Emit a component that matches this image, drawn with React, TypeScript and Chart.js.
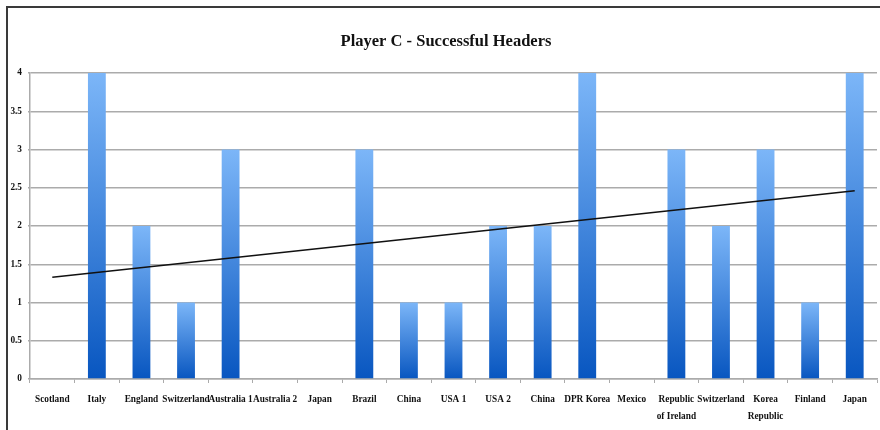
import React, { useEffect, useRef } from "react";
import { Chart, registerables } from "chart.js";

Chart.register(...registerables);

// Opponents, in match order
const matches: (string | string[])[] = [
  "Scotland",
  "Italy",
  "England",
  "Switzerland",
  "Australia 1",
  "Australia 2",
  "Japan",
  "Brazil",
  "China",
  "USA 1",
  "USA 2",
  "China",
  "DPR Korea",
  "Mexico",
  ["Republic", "of Ireland"],
  "Switzerland",
  ["Korea", "Republic"],
  "Finland",
  "Japan",
];

// Successful headers per match
const headers = [0, 4, 2, 1, 3, 0, 0, 3, 1, 1, 2, 2, 4, 0, 3, 2, 3, 1, 4];

// Linear trend line: value at the first and the last match
const trendEnds = [1.33, 2.46];

const yTicks = [0, 0.5, 1, 1.5, 2, 2.5, 3, 3.5, 4];

const TITLE = "Player C - Successful Headers";

const SERIF = "'Liberation Serif', 'Times New Roman', serif";
const BAR_TOP = "#7cb6f8";
const BAR_BOTTOM = "#0856c0";
const GRID = "#ababab";

// Title centred over the frame (left edge at the border), not the full canvas
const titlePlugin = {
  id: "frameTitle",
  afterDraw(chart: any) {
    const c = chart.ctx;
    c.save();
    c.font = `bold 16.5px ${SERIF}`;
    c.fillStyle = "#111111";
    c.textAlign = "center";
    c.textBaseline = "middle";
    c.fillText(TITLE, 446, 42);
    c.restore();
  },
};

export default function App() {
  const canvasRef = useRef<HTMLCanvasElement | null>(null);

  useEffect(() => {
    const canvas = canvasRef.current;
    if (!canvas) return;

    const trendData: (number | null)[] = matches.map(() => null);
    trendData[0] = trendEnds[0];
    trendData[trendData.length - 1] = trendEnds[1];

    const chart = new Chart(canvas, {
      type: "bar",
      data: {
        labels: matches,
        datasets: [
          {
            type: "line",
            label: "Trend",
            data: trendData,
            borderColor: "#111111",
            borderWidth: 1.5,
            pointRadius: 0,
            spanGaps: true,
            order: 0,
          } as any,
          {
            type: "bar",
            label: "Successful Headers",
            data: headers,
            order: 1,
            categoryPercentage: 1,
            barPercentage: 0.4,
            borderWidth: 0,
            backgroundColor: (ctx: any) => {
              const chart = ctx.chart;
              const area = chart.chartArea;
              const y = chart.scales.y;
              if (!area || !y || ctx.type !== "data") return BAR_BOTTOM;
              const top = y.getPixelForValue(ctx.raw);
              const bottom = y.getPixelForValue(0);
              if (!isFinite(top) || Math.abs(bottom - top) < 1) return BAR_BOTTOM;
              const g = chart.ctx.createLinearGradient(0, top, 0, bottom);
              g.addColorStop(0, BAR_TOP);
              g.addColorStop(1, BAR_BOTTOM);
              return g;
            },
          } as any,
        ],
      },
      plugins: [titlePlugin],
      options: {
        animation: false,
        responsive: false,
        maintainAspectRatio: false,
        layout: { padding: { left: 0, right: 3, top: 73, bottom: 0 } },
        plugins: {
          legend: { display: false },
          tooltip: { enabled: false },
          title: { display: false },
        },
        scales: {
          x: {
            grid: {
              display: true,
              drawOnChartArea: false,
              drawTicks: true,
              tickLength: 4,
              offset: true,
              color: GRID,
              lineWidth: 1,
            },
            border: { display: true, color: GRID, width: 1.5 },
            ticks: {
              autoSkip: false,
              maxRotation: 0,
              minRotation: 0,
              padding: 8,
              color: "#111111",
              font: { family: SERIF, size: 9.3, weight: "bold", lineHeight: 1.8 },
            },
            afterFit: (scale: any) => {
              scale.height = 51;
            },
          },
          y: {
            min: 0,
            max: 4,
            afterBuildTicks: (scale: any) => {
              scale.ticks = yTicks.map((v) => ({ value: v }));
            },
            grid: {
              color: GRID,
              lineWidth: 1.5,
              drawTicks: true,
              tickLength: 2,
            },
            border: { display: true, color: GRID, width: 1.5 },
            ticks: {
              padding: 6,
              color: "#111111",
              font: { family: SERIF, size: 9.3, weight: "bold" },
              callback: (value: any) => String(Number(value)),
            },
            afterFit: (scale: any) => {
              scale.width = 30;
            },
          },
        },
      },
    });

    return () => chart.destroy();
  }, []);

  return (
    <div
      style={{
        position: "fixed",
        left: 0,
        top: 0,
        width: 880,
        height: 430,
        background: "#ffffff",
        overflow: "hidden",
      }}
    >
      <div
        style={{
          position: "absolute",
          left: 6,
          top: 6,
          right: -10,
          bottom: -10,
          borderLeft: "2px solid #3a3a3a",
          borderTop: "2px solid #3a3a3a",
        }}
      />
      <canvas
        ref={canvasRef}
        width={880}
        height={430}
        style={{ position: "absolute", left: 0, top: 0, display: "block" }}
      />
    </div>
  );
}
